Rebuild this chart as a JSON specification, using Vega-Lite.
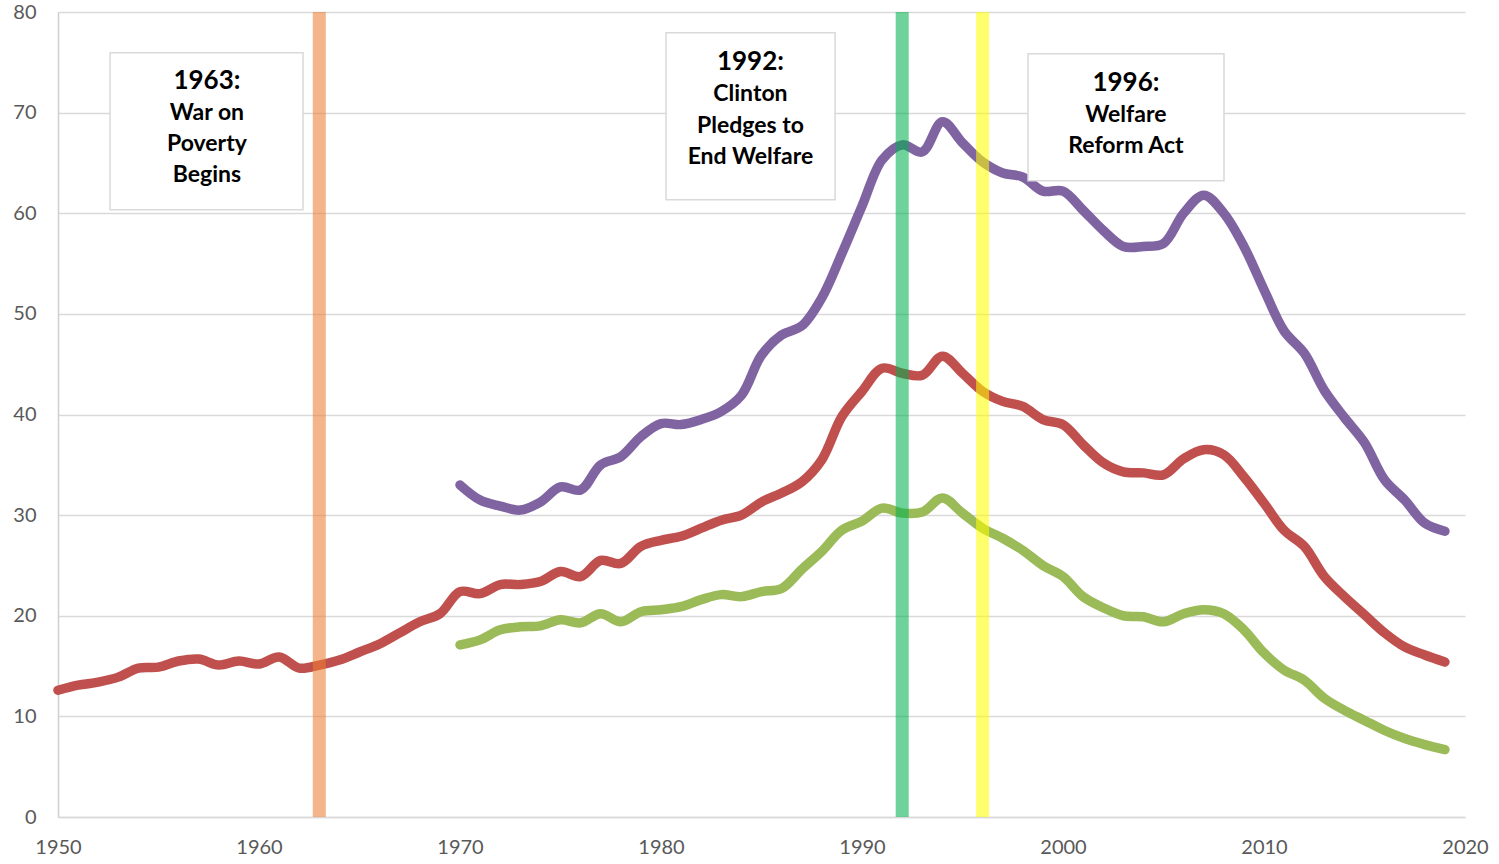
{
  "$schema": "https://vega.github.io/schema/vega-lite/v6.json",
  "width": 1407,
  "height": 805,
  "autosize": {"type": "none"},
  "padding": {"left": 58, "top": 12, "right": 34, "bottom": 47},
  "background": "white",
  "config": {"view": {"stroke": null}, "font": "Lato"},
  "datasets": {
    "series": [
      {"year":1950,"series":"Series 1","value":12.6},{"year":1951,"series":"Series 1","value":13.1},{"year":1952,"series":"Series 1","value":13.4},{"year":1953,"series":"Series 1","value":13.9},{"year":1954,"series":"Series 1","value":14.8},{"year":1955,"series":"Series 1","value":14.9},{"year":1956,"series":"Series 1","value":15.5},{"year":1957,"series":"Series 1","value":15.7},{"year":1958,"series":"Series 1","value":15.1},{"year":1959,"series":"Series 1","value":15.5},
      {"year":1960,"series":"Series 1","value":15.2},{"year":1961,"series":"Series 1","value":15.9},{"year":1962,"series":"Series 1","value":14.8},{"year":1963,"series":"Series 1","value":15.1},{"year":1964,"series":"Series 1","value":15.6},{"year":1965,"series":"Series 1","value":16.4},{"year":1966,"series":"Series 1","value":17.2},{"year":1967,"series":"Series 1","value":18.3},{"year":1968,"series":"Series 1","value":19.4},{"year":1969,"series":"Series 1","value":20.2},
      {"year":1970,"series":"Series 1","value":22.4},{"year":1971,"series":"Series 1","value":22.2},{"year":1972,"series":"Series 1","value":23.1},{"year":1973,"series":"Series 1","value":23.1},{"year":1974,"series":"Series 1","value":23.4},{"year":1975,"series":"Series 1","value":24.4},{"year":1976,"series":"Series 1","value":23.9},{"year":1977,"series":"Series 1","value":25.5},{"year":1978,"series":"Series 1","value":25.2},{"year":1979,"series":"Series 1","value":26.9},
      {"year":1980,"series":"Series 1","value":27.5},{"year":1981,"series":"Series 1","value":27.9},{"year":1982,"series":"Series 1","value":28.7},{"year":1983,"series":"Series 1","value":29.5},{"year":1984,"series":"Series 1","value":30.0},{"year":1985,"series":"Series 1","value":31.3},{"year":1986,"series":"Series 1","value":32.2},{"year":1987,"series":"Series 1","value":33.3},{"year":1988,"series":"Series 1","value":35.5},{"year":1989,"series":"Series 1","value":39.8},
      {"year":1990,"series":"Series 1","value":42.3},{"year":1991,"series":"Series 1","value":44.6},{"year":1992,"series":"Series 1","value":44.1},{"year":1993,"series":"Series 1","value":43.9},{"year":1994,"series":"Series 1","value":45.8},{"year":1995,"series":"Series 1","value":44.1},{"year":1996,"series":"Series 1","value":42.3},{"year":1997,"series":"Series 1","value":41.3},{"year":1998,"series":"Series 1","value":40.8},{"year":1999,"series":"Series 1","value":39.5},
      {"year":2000,"series":"Series 1","value":39.0},{"year":2001,"series":"Series 1","value":37.0},{"year":2002,"series":"Series 1","value":35.2},{"year":2003,"series":"Series 1","value":34.3},{"year":2004,"series":"Series 1","value":34.2},{"year":2005,"series":"Series 1","value":34.0},{"year":2006,"series":"Series 1","value":35.6},{"year":2007,"series":"Series 1","value":36.5},{"year":2008,"series":"Series 1","value":36.0},{"year":2009,"series":"Series 1","value":33.8},
      {"year":2010,"series":"Series 1","value":31.2},{"year":2011,"series":"Series 1","value":28.5},{"year":2012,"series":"Series 1","value":26.9},{"year":2013,"series":"Series 1","value":23.9},{"year":2014,"series":"Series 1","value":21.9},{"year":2015,"series":"Series 1","value":20.1},{"year":2016,"series":"Series 1","value":18.3},{"year":2017,"series":"Series 1","value":16.9},{"year":2018,"series":"Series 1","value":16.1},{"year":2019,"series":"Series 1","value":15.4},

      {"year":1970,"series":"Series 2","value":33.0},{"year":1971,"series":"Series 2","value":31.5},{"year":1972,"series":"Series 2","value":30.9},{"year":1973,"series":"Series 2","value":30.5},{"year":1974,"series":"Series 2","value":31.3},{"year":1975,"series":"Series 2","value":32.8},{"year":1976,"series":"Series 2","value":32.5},{"year":1977,"series":"Series 2","value":35.0},{"year":1978,"series":"Series 2","value":35.8},{"year":1979,"series":"Series 2","value":37.8},
      {"year":1980,"series":"Series 2","value":39.1},{"year":1981,"series":"Series 2","value":39.0},{"year":1982,"series":"Series 2","value":39.5},{"year":1983,"series":"Series 2","value":40.3},{"year":1984,"series":"Series 2","value":41.9},{"year":1985,"series":"Series 2","value":45.9},{"year":1986,"series":"Series 2","value":47.9},{"year":1987,"series":"Series 2","value":48.8},{"year":1988,"series":"Series 2","value":51.6},{"year":1989,"series":"Series 2","value":56.0},
      {"year":1990,"series":"Series 2","value":60.7},{"year":1991,"series":"Series 2","value":65.3},{"year":1992,"series":"Series 2","value":66.8},{"year":1993,"series":"Series 2","value":66.1},{"year":1994,"series":"Series 2","value":69.1},{"year":1995,"series":"Series 2","value":67.0},{"year":1996,"series":"Series 2","value":65.1},{"year":1997,"series":"Series 2","value":64.0},{"year":1998,"series":"Series 2","value":63.6},{"year":1999,"series":"Series 2","value":62.2},
      {"year":2000,"series":"Series 2","value":62.2},{"year":2001,"series":"Series 2","value":60.3},{"year":2002,"series":"Series 2","value":58.3},{"year":2003,"series":"Series 2","value":56.7},{"year":2004,"series":"Series 2","value":56.7},{"year":2005,"series":"Series 2","value":57.0},{"year":2006,"series":"Series 2","value":60.0},{"year":2007,"series":"Series 2","value":61.8},{"year":2008,"series":"Series 2","value":60.0},{"year":2009,"series":"Series 2","value":56.7},
      {"year":2010,"series":"Series 2","value":52.4},{"year":2011,"series":"Series 2","value":48.3},{"year":2012,"series":"Series 2","value":46.1},{"year":2013,"series":"Series 2","value":42.4},{"year":2014,"series":"Series 2","value":39.7},{"year":2015,"series":"Series 2","value":37.2},{"year":2016,"series":"Series 2","value":33.5},{"year":2017,"series":"Series 2","value":31.5},{"year":2018,"series":"Series 2","value":29.2},{"year":2019,"series":"Series 2","value":28.4},

      {"year":1970,"series":"Series 3","value":17.1},{"year":1971,"series":"Series 3","value":17.6},{"year":1972,"series":"Series 3","value":18.6},{"year":1973,"series":"Series 3","value":18.9},{"year":1974,"series":"Series 3","value":19.0},{"year":1975,"series":"Series 3","value":19.6},{"year":1976,"series":"Series 3","value":19.3},{"year":1977,"series":"Series 3","value":20.2},{"year":1978,"series":"Series 3","value":19.4},{"year":1979,"series":"Series 3","value":20.4},
      {"year":1980,"series":"Series 3","value":20.6},{"year":1981,"series":"Series 3","value":20.9},{"year":1982,"series":"Series 3","value":21.6},{"year":1983,"series":"Series 3","value":22.1},{"year":1984,"series":"Series 3","value":21.9},{"year":1985,"series":"Series 3","value":22.4},{"year":1986,"series":"Series 3","value":22.7},{"year":1987,"series":"Series 3","value":24.6},{"year":1988,"series":"Series 3","value":26.4},{"year":1989,"series":"Series 3","value":28.5},
      {"year":1990,"series":"Series 3","value":29.4},{"year":1991,"series":"Series 3","value":30.7},{"year":1992,"series":"Series 3","value":30.2},{"year":1993,"series":"Series 3","value":30.3},{"year":1994,"series":"Series 3","value":31.7},{"year":1995,"series":"Series 3","value":30.2},{"year":1996,"series":"Series 3","value":28.7},{"year":1997,"series":"Series 3","value":27.7},{"year":1998,"series":"Series 3","value":26.5},{"year":1999,"series":"Series 3","value":25.0},
      {"year":2000,"series":"Series 3","value":23.9},{"year":2001,"series":"Series 3","value":21.9},{"year":2002,"series":"Series 3","value":20.8},{"year":2003,"series":"Series 3","value":20.0},{"year":2004,"series":"Series 3","value":19.9},{"year":2005,"series":"Series 3","value":19.4},{"year":2006,"series":"Series 3","value":20.2},{"year":2007,"series":"Series 3","value":20.6},{"year":2008,"series":"Series 3","value":20.2},{"year":2009,"series":"Series 3","value":18.6},
      {"year":2010,"series":"Series 3","value":16.3},{"year":2011,"series":"Series 3","value":14.6},{"year":2012,"series":"Series 3","value":13.6},{"year":2013,"series":"Series 3","value":11.8},{"year":2014,"series":"Series 3","value":10.6},{"year":2015,"series":"Series 3","value":9.6},{"year":2016,"series":"Series 3","value":8.6},{"year":2017,"series":"Series 3","value":7.8},{"year":2018,"series":"Series 3","value":7.2},{"year":2019,"series":"Series 3","value":6.7}
    ],
    "events": [
      {"year": 1963, "event": "War on Poverty Begins"},
      {"year": 1992, "event": "Clinton Pledges to End Welfare"},
      {"year": 1996, "event": "Welfare Reform Act"}
    ],
    "boxes": [
      {"event": "War on Poverty Begins", "x0": 1952.59, "x1": 1962.19, "y0": 75.94, "y1": 60.34},
      {"event": "Clinton Pledges to End Welfare", "x0": 1980.25, "x1": 1988.66, "y0": 77.93, "y1": 61.33},
      {"event": "Welfare Reform Act", "x0": 1998.26, "x1": 2008.01, "y0": 75.84, "y1": 63.22}
    ],
    "labels": [
      {"kind": "title", "text": "1963:", "year": 1957.41, "value": 73.1},
      {"kind": "body", "text": "War on", "year": 1957.41, "value": 69.95},
      {"kind": "body", "text": "Poverty", "year": 1957.41, "value": 66.85},
      {"kind": "body", "text": "Begins", "year": 1957.41, "value": 63.8},
      {"kind": "title", "text": "1992:", "year": 1984.45, "value": 75.05},
      {"kind": "body", "text": "Clinton", "year": 1984.45, "value": 71.85},
      {"kind": "body", "text": "Pledges to", "year": 1984.45, "value": 68.7},
      {"kind": "body", "text": "End Welfare", "year": 1984.45, "value": 65.6},
      {"kind": "title", "text": "1996:", "year": 2003.13, "value": 72.95},
      {"kind": "body", "text": "Welfare", "year": 2003.13, "value": 69.8},
      {"kind": "body", "text": "Reform Act", "year": 2003.13, "value": 66.7}
    ]
  },
  "layer": [
    {
      "data": {"name": "series"},
      "mark": {"type": "line", "strokeWidth": 9.5, "interpolate": "catmull-rom", "strokeCap": "round", "strokeJoin": "round"},
      "encoding": {
        "x": {
          "field": "year", "type": "quantitative",
          "scale": {"domain": [1950, 2020], "nice": false, "zero": false},
          "axis": {
            "title": null, "values": [1950, 1960, 1970, 1980, 1990, 2000, 2010, 2020], "format": "d",
            "grid": false, "ticks": false, "domainColor": "#D9D9D9", "domainWidth": 1.5,
            "labelFontSize": 20, "labelColor": "#595959", "labelPadding": 20, "labelFont": "Lato",
            "labelFlush": false, "labelOverlap": false, "labelBound": false
          }
        },
        "y": {
          "field": "value", "type": "quantitative",
          "scale": {"domain": [0, 80], "nice": false},
          "axis": {
            "title": null, "values": [0, 10, 20, 30, 40, 50, 60, 70, 80],
            "grid": true, "gridColor": "#D9D9D9", "gridWidth": 1.5, "ticks": false,
            "domainColor": "#CFCFCF", "domainWidth": 1.5,
            "labelFontSize": 20, "labelColor": "#595959", "labelPadding": 22, "labelFont": "Lato",
            "labelFlush": false, "labelOverlap": false, "labelBound": false
          }
        },
        "color": {
          "field": "series", "type": "nominal",
          "scale": {"domain": ["Series 1", "Series 2", "Series 3"], "range": ["#C0504D", "#8064A2", "#9BBB59"]},
          "legend": null
        },
        "detail": {"field": "series"}
      }
    },
    {
      "data": {"name": "events"},
      "mark": {"type": "rule", "strokeWidth": 13, "opacity": 0.57},
      "encoding": {
        "x": {"field": "year", "type": "quantitative"},
        "color": {
          "field": "event", "type": "nominal",
          "scale": {"domain": ["War on Poverty Begins", "Clinton Pledges to End Welfare", "Welfare Reform Act"], "range": ["#ED7D31", "#00B050", "#FFFF00"]},
          "legend": null
        }
      }
    },
    {
      "data": {"name": "boxes"},
      "mark": {"type": "rect", "fill": "white", "stroke": "#D9D9D9", "strokeWidth": 1.5},
      "encoding": {
        "x": {"field": "x0", "type": "quantitative"},
        "x2": {"field": "x1"},
        "y": {"field": "y0", "type": "quantitative"},
        "y2": {"field": "y1"}
      }
    },
    {
      "data": {"name": "labels"},
      "transform": [{"filter": "datum.kind === 'title'"}],
      "mark": {"type": "text", "fontSize": 26, "fontWeight": "bold", "font": "Lato", "color": "black", "align": "center", "baseline": "middle"},
      "encoding": {
        "x": {"field": "year", "type": "quantitative"},
        "y": {"field": "value", "type": "quantitative"},
        "text": {"field": "text"}
      }
    },
    {
      "data": {"name": "labels"},
      "transform": [{"filter": "datum.kind === 'body'"}],
      "mark": {"type": "text", "fontSize": 23, "fontWeight": "bold", "font": "Lato", "color": "black", "align": "center", "baseline": "middle"},
      "encoding": {
        "x": {"field": "year", "type": "quantitative"},
        "y": {"field": "value", "type": "quantitative"},
        "text": {"field": "text"}
      }
    }
  ],
  "resolve": {"scale": {"color": "independent"}}
}
